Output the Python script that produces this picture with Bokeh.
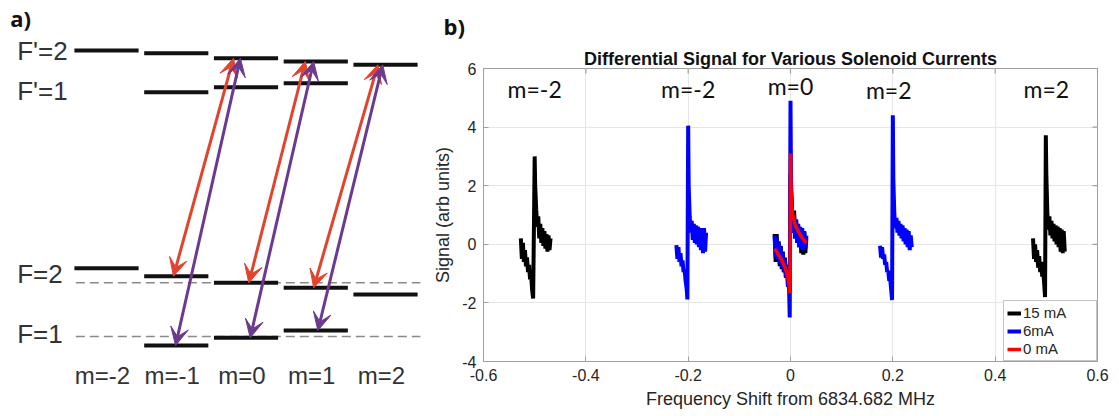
import math
from bokeh.plotting import figure
from bokeh.layouts import row
from bokeh.models import (Range1d, Arrow, VeeHead, Label, Legend, LegendItem,
                          FixedTicker, Title)
from bokeh.core.properties import value
from bokeh.embed import file_html
from bokeh.resources import INLINE

# ================= panel a : level diagram =================
m_vals = [-2, -1, 0, 1, 2]
E_Fp2 = [366.0, 363.3, 358.3, 355.0, 351.7]      # F'=2, m=-2..2
m_Fp1 = [-1, 0, 1]
E_Fp1 = [324.3, 329.3, 333.3]                    # F'=1, m=-1..1
E_F2 = [148.3, 140.3, 133.7, 128.7, 122.0]       # F=2, m=-2..2
m_F1 = [-1, 0, 1]
E_F1 = [71.0, 78.7, 86.0]                        # F=1, m=-1..1
ref_E = [133.7, 80.0]                            # unshifted F=2, F=1
state_labels = ["F'=2", "F'=1", "F=2", "F=1"]
state_label_E = [366, 326, 143, 83]
m_labels = ["m=-2", "m=-1", "m=0", "m=1", "m=2"]

# transitions: lower m -> m+1 on F'=2
trans_m = [-1, 0, 1]
red_x0 = [-1.04, 0.04, 0.97]
red_x1 = [-0.18, 0.85, 1.89]
pur_x0 = [-1.01, 0.06, 1.03]
pur_x1 = [-0.08, 0.97, 1.96]

# ================= panel b : signals =================
bk1_x = [-0.527, -0.525, -0.523, -0.521, -0.519, -0.517, -0.515, -0.513, -0.511, -0.509, -0.507,
         -0.505, -0.503, -0.5015, -0.500, -0.499, -0.497, -0.495, -0.493, -0.491, -0.489, -0.487,
         -0.485, -0.483, -0.481, -0.479, -0.477, -0.475, -0.473, -0.471, -0.469]
bk1_y = [0.20, -0.50, 0.05, -0.60, -0.20, -0.75, -0.45, -0.95, -0.70, -1.20, -1.00,
         -1.55, -1.85, 0.50, 3.00, 2.00, 1.20, 0.60, 0.95, 0.20, 0.70, 0.05,
         0.55, -0.05, 0.45, -0.15, 0.35, -0.25, 0.30, -0.20, 0.20]
bk2_x = [-0.031, -0.029, -0.027, -0.025, -0.023, -0.021, -0.019, -0.017, -0.015, -0.013, -0.011,
         -0.009, -0.007, -0.005, -0.003, -0.0015, 0.000, 0.001, 0.003, 0.005, 0.007, 0.009,
         0.011, 0.013, 0.015, 0.017, 0.019, 0.021, 0.023, 0.025, 0.027, 0.029, 0.031]
bk2_y = [0.35, -0.60, 0.35, -0.55, 0.10, -0.75, -0.05, -0.85, -0.25, -0.95, -0.45,
         -1.10, -0.70, -1.30, -1.10, -1.60, 2.40, 1.80, 1.20, 0.40, 1.15, 0.20,
         0.80, 0.05, 0.65, -0.10, 0.55, -0.30, 0.45, -0.35, 0.40, -0.30, 0.20]
bk3_x = [0.474, 0.476, 0.478, 0.480, 0.482, 0.484, 0.486, 0.488, 0.490, 0.492, 0.494,
         0.496, 0.4975, 0.499, 0.500, 0.502, 0.504, 0.506, 0.508, 0.510, 0.512, 0.514,
         0.516, 0.518, 0.520, 0.522, 0.524, 0.526, 0.528, 0.530, 0.532, 0.534, 0.536]
bk3_y = [0.20, -0.50, 0.00, -0.60, -0.20, -0.80, -0.40, -0.95, -0.60, -1.10, -0.90,
         -1.40, -1.80, 3.72, 2.40, 1.05, 0.50, 0.95, 0.30, 0.80, 0.20, 0.70,
         0.10, 0.65, 0.00, 0.60, -0.10, 0.55, -0.25, 0.50, -0.30, 0.45, -0.25]
bl1_x = [-0.223, -0.221, -0.219, -0.217, -0.215, -0.213, -0.211, -0.209, -0.207, -0.205, -0.203,
         -0.2015, -0.200, -0.199, -0.197, -0.195, -0.193, -0.191, -0.189, -0.187, -0.185, -0.183,
         -0.181, -0.179, -0.177, -0.175, -0.173, -0.171, -0.169, -0.167, -0.165]
bl1_y = [-0.03, -0.50, -0.10, -0.60, -0.30, -0.75, -0.55, -0.95, -0.85, -1.25, -1.50,
         -1.88, 4.05, 2.00, 0.95, 0.40, 0.80, 0.15, 0.70, 0.05, 0.65, 0.00,
         0.60, -0.10, 0.55, -0.20, 0.50, -0.30, 0.55, -0.25, 0.40]
bl2_x = bk2_x
bl2_y = [0.30, -0.45, 0.25, -0.50, 0.05, -0.65, -0.10, -0.80, -0.30, -0.95, -0.55,
         -1.15, -0.85, -1.45, -1.40, -2.50, 4.90, 2.20, 1.20, 0.40, 1.00, 0.20,
         0.85, 0.05, 0.70, -0.10, 0.60, -0.15, 0.55, -0.20, 0.45, -0.10, 0.30]
bl3_x = [0.175, 0.177, 0.179, 0.181, 0.183, 0.185, 0.187, 0.189, 0.191, 0.193, 0.195,
         0.197, 0.1985, 0.200, 0.201, 0.203, 0.205, 0.207, 0.209, 0.211, 0.213, 0.215,
         0.217, 0.219, 0.221, 0.223, 0.225, 0.227, 0.229, 0.231, 0.233, 0.235, 0.237]
bl3_y = [-0.05, -0.45, -0.10, -0.50, -0.35, -0.70, -0.60, -0.95, -0.90, -1.25, -1.20,
         -1.60, -1.90, 4.40, 2.20, 1.00, 0.55, 0.90, 0.40, 0.80, 0.30, 0.70,
         0.20, 0.65, 0.10, 0.55, 0.00, 0.50, -0.10, 0.45, -0.20, 0.30, -0.10]
rd_x = [-0.031, -0.027, -0.023, -0.019, -0.015, -0.011, -0.007, -0.004, -0.002, -0.001,
        0.000, 0.001, 0.002, 0.004, 0.007, 0.010, 0.014, 0.018, 0.022, 0.026, 0.031]
rd_y = [-0.15, -0.25, -0.38, -0.48, -0.62, -0.78, -1.00, -1.25, -1.50, -1.67,
        3.10, 2.00, 1.40, 1.05, 0.80, 0.62, 0.48, 0.36, 0.25, 0.15, 0.05]

series_names = ["15 mA", "6mA", "0 mA"]
series_colors = ["#000000", "#0000ff", "#ff0000"]

ann_x = [-0.5, -0.2, 0.0, 0.192, 0.5]
ann_y = [5.3, 5.3, 5.4, 5.25, 5.3]
ann_text = ["m=-2", "m=-2", "m=0", "m=2", "m=2"]

x_ticks = [-0.6, -0.4, -0.2, 0.0, 0.2, 0.4, 0.6]
x_tick_labels = ["-0.6", "-0.4", "-0.2", "0", "0.2", "0.4", "0.6"]
y_ticks = [-4, -2, 0, 2, 4, 6]
y_tick_labels = ["-4", "-2", "0", "2", "4", "6"]


def join(*parts):
    xs, ys = [], []
    for i, (px, py) in enumerate(parts):
        if i:
            xs.append(math.nan)
            ys.append(math.nan)
        xs += list(px)
        ys += list(py)
    return xs, ys


# ---------------- figure a ----------------
TXT = "#333333"
pa = figure(width=430, height=416, x_range=Range1d(-3.52, 2.645), y_range=Range1d(0, 416),
            output_backend="svg", toolbar_location=None, x_axis_location=None,
            y_axis_location=None, min_border=0, outline_line_color=None, title=None)
pa.frame_align = False
pa.grid.visible = False

pa.segment(x0=[-2.44] * 2, x1=[2.5] * 2, y0=ref_E, y1=ref_E, line_color="#8a8a8a",
           line_width=1.5, line_dash="9 5")
lvl_m = m_vals + m_Fp1 + m_vals + m_F1
lvl_E = E_Fp2 + E_Fp1 + E_F2 + E_F1
pa.segment(x0=[m - 0.46 for m in lvl_m], x1=[m + 0.46 for m in lvl_m], y0=lvl_E, y1=lvl_E,
           line_color="#111111", line_width=4)

RED = "#e2432c"
PUR = "#6b3a8e"
for i, m in enumerate(trans_m):
    up = E_Fp2[m + 3]
    pa.add_layout(Arrow(x_start=red_x0[i], y_start=E_F2[m + 2], x_end=red_x1[i], y_end=up,
                        line_color=RED, line_width=3,
                        start=VeeHead(size=18, fill_color=RED, line_color=RED, line_width=1),
                        end=VeeHead(size=18, fill_color=RED, line_color=RED, line_width=1)))
    pa.add_layout(Arrow(x_start=pur_x0[i], y_start=E_F1[m + 1], x_end=pur_x1[i], y_end=up,
                        line_color=PUR, line_width=3,
                        start=VeeHead(size=18, fill_color=PUR, line_color=PUR, line_width=1),
                        end=VeeHead(size=18, fill_color=PUR, line_color=PUR, line_width=1)))

pa.text(x=[-3.28] * 4, y=state_label_E, text=state_labels, text_font=value("Liberation Sans"),
        text_font_size="26px", text_color=TXT, text_baseline="middle", text_align="left")
pa.text(x=[m - 0.06 for m in m_vals], y=[41] * 5, text=m_labels,
        text_font=value("Liberation Sans"), text_font_size="24px", text_color=TXT,
        text_baseline="middle", text_align="center")
pa.add_layout(Label(x=-3.38, y=399, text="a)", text_font="Open Sans", text_font_size="22px",
                    text_font_style="bold", text_baseline="middle", text_color="#111111"))

# ---------------- figure b ----------------
AX = "#a0a0a0"
LBL = "#262626"
pb = figure(width=689, height=416, x_range=Range1d(-0.6, 0.6), y_range=Range1d(-4, 6),
            output_backend="svg", toolbar_location=None, min_border_left=49,
            min_border_right=22, min_border_top=68, min_border_bottom=55,
            outline_line_color=AX)
pb.frame_align = False
# outer title: panel letter
pb.title.text = "b)"
pb.title.align = "left"
pb.title.offset = -40
pb.title.text_font = "Open Sans"
pb.title.text_font_size = "22px"
pb.title.text_font_style = "bold"
pb.title.text_color = "#111111"
pb.title.standoff = 12
# inner title: chart title
pb.add_layout(Title(text="Differential Signal for Various Solenoid Currents", align="center",
                    text_font="Liberation Sans", text_font_size="18px",
                    text_font_style="bold", text_color="#111111", standoff=0), "above")

pb.xaxis.ticker = FixedTicker(ticks=x_ticks)
pb.xaxis.major_label_overrides = dict(zip(x_ticks, x_tick_labels))
pb.yaxis.ticker = FixedTicker(ticks=y_ticks)
pb.yaxis.major_label_overrides = dict(zip(y_ticks, y_tick_labels))
pb.xaxis.axis_label = "Frequency Shift from 6834.682 MHz"
pb.yaxis.axis_label = "Signal (arb units)"
for ax in pb.xaxis + pb.yaxis:
    ax.major_tick_in = 5
    ax.major_tick_out = 0
    ax.minor_tick_line_color = None
    ax.axis_line_color = AX
    ax.major_tick_line_color = AX
    ax.major_label_text_font = "Liberation Sans"
    ax.major_label_text_font_size = "16px"
    ax.major_label_text_color = LBL
    ax.axis_label_text_font = "Liberation Sans"
    ax.axis_label_text_font_size = "18px"
    ax.axis_label_text_font_style = "normal"
    ax.axis_label_text_color = LBL
pb.xaxis.major_label_standoff = 7
pb.xaxis.axis_label_standoff = 5
pb.yaxis.major_label_standoff = 7
pb.yaxis.axis_label_standoff = 6
pb.grid.grid_line_color = "#e6e6e6"
pb.xgrid.ticker = FixedTicker(ticks=x_ticks)
pb.ygrid.ticker = FixedTicker(ticks=y_ticks)

# inward ticks on the right and top edges of the box
pb.scatter(x=[x_ticks[-1]] * len(y_ticks), y=y_ticks, marker="dash", size=10, line_color=AX,
           line_width=1.2)
pb.scatter(x=x_ticks, y=[y_ticks[-1]] * len(x_ticks), marker="dash", size=10, angle=math.pi / 2,
           line_color=AX, line_width=1.2)

bx, by = join((bk1_x, bk1_y), (bk2_x, bk2_y), (bk3_x, bk3_y))
ux, uy = join((bl1_x, bl1_y), (bl2_x, bl2_y), (bl3_x, bl3_y))
r_black = pb.line(bx, by, line_color=series_colors[0], line_width=4)
r_blue = pb.line(ux, uy, line_color=series_colors[1], line_width=4)
r_red = pb.line(rd_x, rd_y, line_color=series_colors[2], line_width=3.5)

pb.text(x=ann_x, y=ann_y, text=ann_text, text_font=value("Lato"), text_font_size="23px",
        text_color="#111111", text_align="center", text_baseline="middle")

legend = Legend(items=[LegendItem(label=series_names[0], renderers=[r_black]),
                       LegendItem(label=series_names[1], renderers=[r_blue]),
                       LegendItem(label=series_names[2], renderers=[r_red])],
                location="bottom_right", margin=0, padding=3, spacing=1,
                glyph_width=14, glyph_height=16, label_height=16, label_standoff=2,
                label_width=70, label_text_font="Liberation Sans", label_text_font_size="15px",
                label_text_color=LBL, border_line_color="#8a8a8a",
                background_fill_alpha=1.0)
pb.add_layout(legend)

layout = row(pa, pb)
open("out.html", "w").write(file_html(layout, INLINE))
